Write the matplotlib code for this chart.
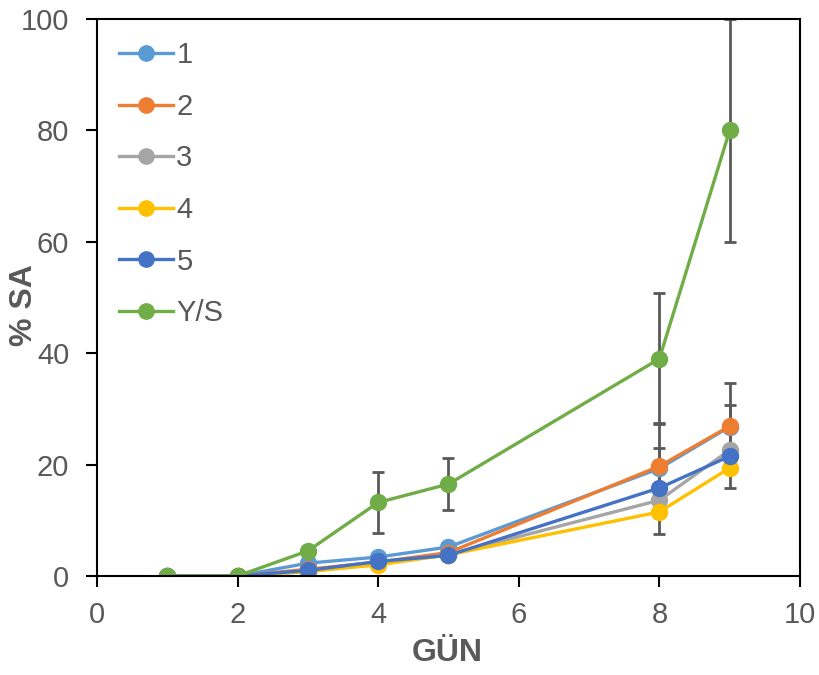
import matplotlib.pyplot as plt
from matplotlib.lines import Line2D

plt.rcParams['font.family'] = ['Liberation Sans', 'DejaVu Sans']

gun = [1, 2, 3, 4, 5, 8, 9]

s1 = [0, 0, 2.3, 3.4, 5.2, 19.3, 26.8]
s2 = [0, 0, 1.2, 2.5, 4.2, 19.7, 26.9]
s3 = [0, 0, 0.8, 2.2, 3.8, 13.6, 22.6]
s4 = [0, 0, 0.8, 2.0, 3.8, 11.5, 19.4]
s5 = [0, 0, 1.0, 2.6, 3.7, 15.8, 21.5]
ys = [0, 0, 4.5, 13.2, 16.5, 39.0, 80.0]

e1 = [0, 0, 0, 0, 0, 8.2, 3.9]
e2 = [0, 0, 0, 0, 0, 3.2, 7.7]
e3 = [0, 0, 0, 0, 0, 0, 0]
e4 = [0, 0, 0, 0, 0, 3.9, 3.6]
e5 = [0, 0, 0, 0, 0, 0, 0]
eys = [0, 0, 0, 5.4, 4.7, 11.8, 20.0]

labels = ['1', '2', '3', '4', '5', 'Y/S']
colors = ['#5B9BD5', '#ED7D31', '#A5A5A5', '#FFC000', '#4472C4', '#70AD47']
series = [s1, s2, s3, s4, s5, ys]
errors = [e1, e2, e3, e4, e5, eys]

fig = plt.figure(figsize=(8.19, 6.75), dpi=100)
ax = fig.add_axes([0.1184, 0.1467, 0.8584, 0.8252])

gray = '#595959'
handles = []
for vals, err, lab, col in zip(series, errors, labels, colors):
    ax.errorbar(gun, vals, yerr=err, color=col, marker='o', markersize=11.5,
                linewidth=2.4, ecolor=gray, elinewidth=2,
                capsize=4.5, capthick=2)
    handles.append(Line2D([], [], color=col, marker='o', markersize=11,
                          linewidth=2.4, label=lab))

ax.set_xlim(0, 10)
ax.set_ylim(0, 100)
ax.set_xticks(range(0, 11, 2))
ax.set_yticks(range(0, 101, 20))
ax.tick_params(direction='out', length=8, width=1.5, labelsize=21,
               labelcolor=gray, color='black')
ax.tick_params(axis='x', pad=10)
ax.tick_params(axis='y', pad=12)
for sp in ax.spines.values():
    sp.set_linewidth(1.5)
    sp.set_color('black')

ax.set_xlabel('GÜN', fontsize=23, fontweight='bold', color=gray)
ax.set_ylabel('% SA', fontsize=23, fontweight='bold', color=gray)
ax.xaxis.set_label_coords(0.4986, -0.112)
ax.yaxis.set_label_coords(-0.083, 0.487)

leg = ax.legend(handles=handles, loc='upper left', frameon=False, fontsize=21,
                labelspacing=0.81, handlelength=1.86, handletextpad=0.1,
                borderaxespad=0.36, bbox_to_anchor=(0.0, 1.0))
for t in leg.get_texts():
    t.set_color(gray)

fig.savefig('out.png', dpi=100)
